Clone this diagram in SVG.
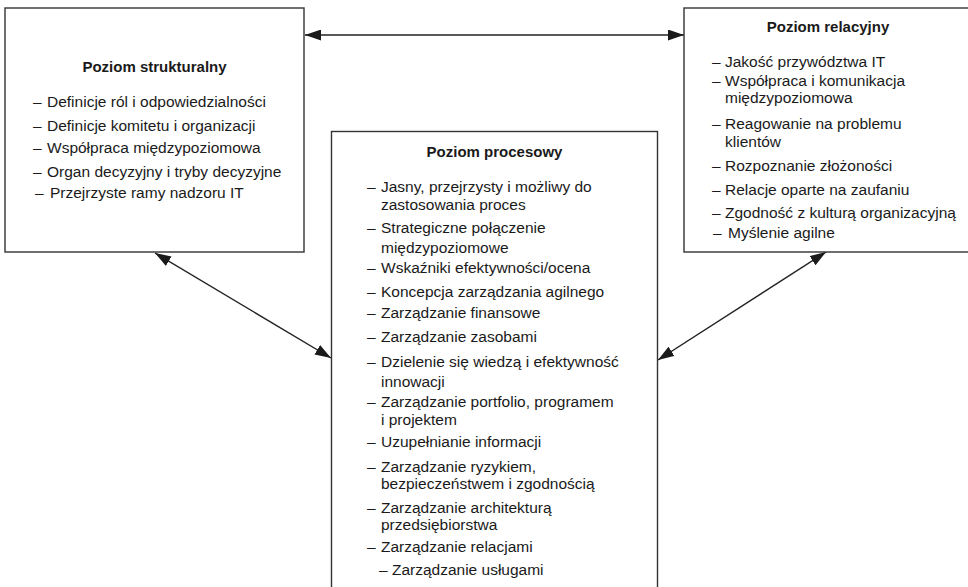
<svg xmlns="http://www.w3.org/2000/svg" width="968" height="587" viewBox="0 0 968 587">
<style>
.box{fill:#fff;stroke:#333;stroke-width:1.4}
.t{font-family:"Liberation Sans",Arial,sans-serif;font-size:15.5px;fill:#1a1a1a}
.h{font-family:"Liberation Sans",Arial,sans-serif;font-size:15px;font-weight:bold;fill:#1a1a1a;text-anchor:middle}
.c{stroke:#222;stroke-width:1.4;fill:none;marker-start:url(#ah);marker-end:url(#ah)}
</style>
<defs>
<marker id="ah" markerUnits="userSpaceOnUse" markerWidth="17" markerHeight="11" refX="16" refY="5.5" orient="auto-start-reverse">
<path d="M0,0 L16,5.5 L0,11 z" fill="#1a1a1a"/>
</marker>
</defs>
<rect width="968" height="587" fill="#fff"/>
<g id="connectors">
<line class="c" x1="305" y1="35" x2="684" y2="35"/>
<line class="c" x1="155" y1="253" x2="331" y2="358"/>
<line class="c" x1="826" y1="252" x2="658" y2="360"/>
</g>
<g id="strukturalny">
<rect class="box" x="5" y="8" width="299" height="244"/>
<text class="h" x="154.5" y="72">Poziom strukturalny</text>
<text class="t" y="107"><tspan x="33">–</tspan><tspan x="47">Definicje ról i odpowiedzialności</tspan></text>
<text class="t" y="131"><tspan x="33">–</tspan><tspan x="47">Definicje komitetu i organizacji</tspan></text>
<text class="t" y="153"><tspan x="33">–</tspan><tspan x="47">Współpraca międzypoziomowa</tspan></text>
<text class="t" y="177"><tspan x="33">–</tspan><tspan x="47">Organ decyzyjny i tryby decyzyjne</tspan></text>
<text class="t" y="198"><tspan x="35">–</tspan><tspan x="50">Przejrzyste ramy nadzoru IT</tspan></text>
</g>
<g id="relacyjny">
<rect class="box" x="684" y="8" width="300" height="244"/>
<text class="h" x="828" y="32">Poziom relacyjny</text>
<text class="t" y="67"><tspan x="712">–</tspan><tspan x="725">Jakość przywództwa IT</tspan></text>
<text class="t" y="86"><tspan x="712">–</tspan><tspan x="725">Współpraca i komunikacja</tspan></text>
<text class="t" x="725" y="103">międzypoziomowa</text>
<text class="t" y="129"><tspan x="712">–</tspan><tspan x="725">Reagowanie na problemu</tspan></text>
<text class="t" x="725" y="147">klientów</text>
<text class="t" y="171"><tspan x="712">–</tspan><tspan x="725">Rozpoznanie złożoności</tspan></text>
<text class="t" y="195"><tspan x="712">–</tspan><tspan x="725">Relacje oparte na zaufaniu</tspan></text>
<text class="t" y="218"><tspan x="712">–</tspan><tspan x="725">Zgodność z kulturą organizacyjną</tspan></text>
<text class="t" y="238"><tspan x="713">–</tspan><tspan x="728">Myślenie agilne</tspan></text>
</g>
<g id="procesowy">
<rect class="box" x="331.5" y="131.5" width="326" height="470"/>
<text class="h" x="494.5" y="157">Poziom procesowy</text>
<text class="t" y="192"><tspan x="367">–</tspan><tspan x="381">Jasny, przejrzysty i możliwy do</tspan></text>
<text class="t" x="381" y="210">zastosowania proces</text>
<text class="t" y="233"><tspan x="367">–</tspan><tspan x="381">Strategiczne połączenie</tspan></text>
<text class="t" x="381" y="253">międzypoziomowe</text>
<text class="t" y="273"><tspan x="367">–</tspan><tspan x="381">Wskaźniki efektywności/ocena</tspan></text>
<text class="t" y="297"><tspan x="367">–</tspan><tspan x="381">Koncepcja zarządzania agilnego</tspan></text>
<text class="t" y="318"><tspan x="367">–</tspan><tspan x="381">Zarządzanie finansowe</tspan></text>
<text class="t" y="342"><tspan x="367">–</tspan><tspan x="381">Zarządzanie zasobami</tspan></text>
<text class="t" y="367"><tspan x="367">–</tspan><tspan x="381">Dzielenie się wiedzą i efektywność</tspan></text>
<text class="t" x="381" y="387">innowacji</text>
<text class="t" y="407"><tspan x="367">–</tspan><tspan x="381">Zarządzanie portfolio, programem</tspan></text>
<text class="t" x="381" y="425">i projektem</text>
<text class="t" y="447"><tspan x="367">–</tspan><tspan x="381">Uzupełnianie informacji</tspan></text>
<text class="t" y="472"><tspan x="367">–</tspan><tspan x="381">Zarządzanie ryzykiem,</tspan></text>
<text class="t" x="381" y="489">bezpieczeństwem i zgodnością</text>
<text class="t" y="513"><tspan x="367">–</tspan><tspan x="381">Zarządzanie architekturą</tspan></text>
<text class="t" x="381" y="530">przedsiębiorstwa</text>
<text class="t" y="552"><tspan x="367">–</tspan><tspan x="381">Zarządzanie relacjami</tspan></text>
<text class="t" x="379" y="575">– Zarządzanie usługami</text>
</g>
</svg>
